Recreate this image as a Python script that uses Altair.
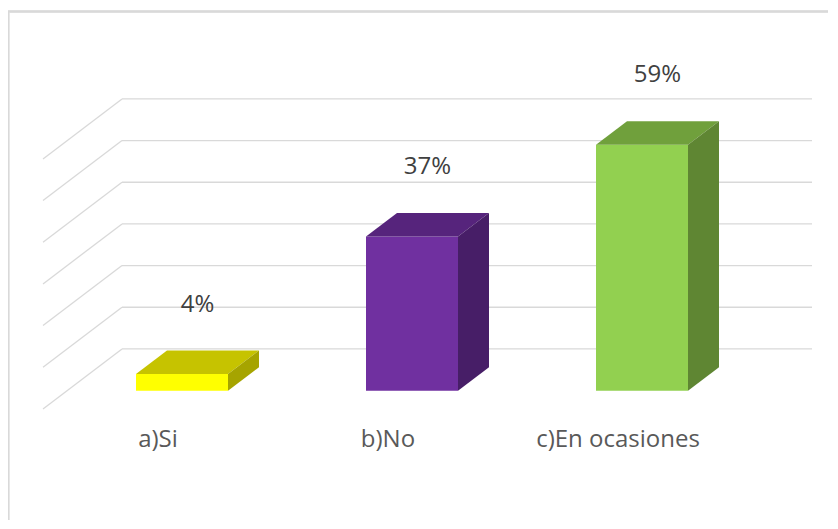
import altair as alt
import pandas as pd

# ---- data ----
categories = ["a)Si", "b)No", "c)En ocasiones"]
values = [4, 37, 59]
value_labels = ["4%", "37%", "59%"]
front_colors = ["#FFFF00", "#7030A0", "#92D050"]
top_colors = ["#C6C300", "#56247C", "#70A03C"]
side_colors = ["#A6A400", "#471E67", "#5F8633"]
grid_ticks = [0, 10, 20, 30, 40, 50, 60]

# ---- geometry of the oblique 3D projection (pixels) ----
W, H = 820, 512
SLOT = 230.0          # px per category slot
PPU = 25.0 / 6.0      # px per percentage point
ORIGIN_X = 174.0      # view px of first category centre (front plane)
ORIGIN_Y = 382.7      # view px of 0 % on the front plane


def ux(px):
    return px / SLOT


def uy(px):
    return px / PPU


HALF = ux(46)                       # half bar width
BDX, BDY = ux(31), uy(23.5)         # bar depth
WDX, WDY = ux(55), uy(41.8)         # back wall offset from bar front plane
FDX, FDY = ux(-24), uy(-18.2)       # floor front edge offset from bar front plane
LEFT, RIGHT = -0.5, len(categories) - 0.5

xs = alt.Scale(domain=[-ORIGIN_X / SLOT, (W - ORIGIN_X) / SLOT], nice=False, zero=False)
ys = alt.Scale(domain=[-(H - ORIGIN_Y) / PPU, ORIGIN_Y / PPU], nice=False, zero=False)


def X(f):
    return alt.X(f, type="quantitative", scale=xs, axis=None)


def Y(f):
    return alt.Y(f, type="quantitative", scale=ys, axis=None, stack=None)


def X2(f):
    return alt.X2(f)


def Y2(f):
    return alt.Y2(f)


# ---- tables built from the lists ----
grid_back = pd.DataFrame({
    "x": [LEFT + WDX] * len(grid_ticks),
    "x2": [RIGHT + WDX] * len(grid_ticks),
    "y": [t + WDY for t in grid_ticks],
})
grid_side = pd.DataFrame({
    "x": [LEFT + WDX] * len(grid_ticks),
    "x2": [LEFT + FDX] * len(grid_ticks),
    "y": [t + WDY for t in grid_ticks],
    "y2": [t + FDY for t in grid_ticks],
})

front_rows, top_rows, side_rows = [], [], []
for i, (c, v) in enumerate(zip(categories, values)):
    L, R = i - HALF, i + HALF
    front_rows.append({"cat": c, "x": L, "x2": R, "y": 0, "y2": v, "color": front_colors[i]})
    top_rows.append({"cat": c, "y": v, "x": L, "x2": R, "color": top_colors[i]})
    top_rows.append({"cat": c, "y": v + BDY, "x": L + BDX, "x2": R + BDX, "color": top_colors[i]})
    side_rows.append({"cat": c, "x": R, "y": v, "y2": 0, "color": side_colors[i]})
    side_rows.append({"cat": c, "x": R + BDX, "y": v + BDY, "y2": BDY, "color": side_colors[i]})

front_df = pd.DataFrame(front_rows)
top_df = pd.DataFrame(top_rows)
side_df = pd.DataFrame(side_rows)

pct_df = pd.DataFrame({
    "x": [i + BDX / 2 for i in range(len(values))],
    "y": [v + 15 for v in values],
    "label": value_labels,
})
cat_df = pd.DataFrame({
    "x": [i + FDX for i in range(len(categories))],
    "y": [FDY - uy(31)] * len(categories),
    "label": categories,
})

GRID = "#D9D9D9"

back = alt.Chart(grid_back).mark_rule(color=GRID, strokeWidth=1.3).encode(
    x=X("x"), x2=X2("x2"), y=Y("y"))
side = alt.Chart(grid_side).mark_rule(color=GRID, strokeWidth=1.3).encode(
    x=X("x"), x2=X2("x2"), y=Y("y"), y2=Y2("y2"))

frame_top = alt.Chart(grid_back).mark_rule(color=GRID, strokeWidth=1.3).encode(
    x=alt.value(0), x2=alt.value(W), y=alt.value(3.5))
frame_left = alt.Chart(grid_back).mark_rule(color=GRID, strokeWidth=1.3).encode(
    x=alt.value(0.5), y=alt.value(3), y2=alt.value(H))

fronts = alt.Chart(front_df).mark_rect().encode(
    x=X("x"), x2=X2("x2"), y=Y("y"), y2=Y2("y2"),
    color=alt.Color("color:N", scale=None))
tops = alt.Chart(top_df).mark_area(orient="horizontal").encode(
    y=Y("y"), x=X("x"), x2=X2("x2"),
    color=alt.Color("color:N", scale=None), detail="cat:N")
sides = alt.Chart(side_df).mark_area(orient="vertical").encode(
    x=X("x"), y=Y("y"), y2=Y2("y2"),
    color=alt.Color("color:N", scale=None), detail="cat:N")

pct = alt.Chart(pct_df).mark_text(
    font="Open Sans", fontSize=24, color="#404040", baseline="alphabetic", align="center"
).encode(x=X("x"), y=Y("y"), text="label:N")
cats = alt.Chart(cat_df).mark_text(
    font="Open Sans", fontSize=24, color="#595959", baseline="middle", align="center"
).encode(x=X("x"), y=Y("y"), text="label:N")

chart = alt.layer(
    frame_top, frame_left, back, side, fronts, tops, sides, pct, cats
).properties(
    width=W, height=H, autosize=alt.AutoSizeParams(type="none"), padding=0,
    background="white",
).configure_view(stroke=None)

chart.save("out.html", embed_options={"renderer": "svg", "actions": False})
